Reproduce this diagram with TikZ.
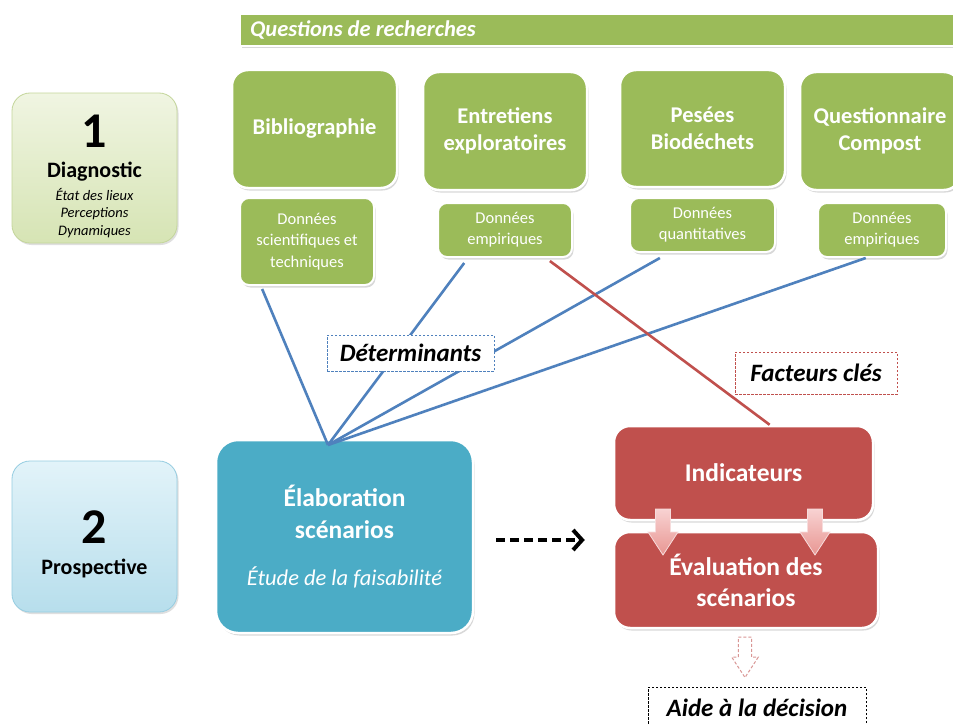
\documentclass[tikz,border=0pt]{standalone}
\usepackage{fontspec}
\setmainfont{Carlito}
\usetikzlibrary{shadows,calc,arrows.meta}
\definecolor{vgreen}{HTML}{9BBB59}
\definecolor{vblue}{HTML}{4F81BD}
\definecolor{vteal}{HTML}{4BACC6}
\definecolor{vred}{HTML}{C0504D}
\definecolor{vpink}{HTML}{D99694}
\newcommand{\fs}[1]{\fontsize{#1}{#1}\selectfont}
\tikzset{
  shad/.style={drop shadow={opacity=0.3,shadow xshift=1.5pt,shadow yshift=-2.5pt}},
  bigbox/.style={shad,rounded corners=16pt,draw=white,line width=2.5pt,text=white,
    font=\bfseries\fs{25.5},align=center,inner sep=0pt},
  greenbox/.style={bigbox,fill=vgreen,font=\bfseries\fs{22.5}},
  databox/.style={shad,rounded corners=9pt,draw=white,line width=2pt,fill=vgreen,text=white,
    font=\fs{16.5},align=center,inner sep=0pt},
  phasebox/.style={rounded corners=18pt,line width=0.8pt,inner sep=0pt,
    drop shadow={opacity=0.25,shadow xshift=1.5pt,shadow yshift=-2pt}},
  phasetext/.style={inner sep=0pt,align=center},
  bline/.style={vblue,line width=2.6pt},
  rline/.style={vred,line width=2.6pt},
  labelbox/.style={fill=white,font=\bfseries\itshape\fs{25},inner sep=0pt,line width=0.9pt,
    dash pattern=on 2.5pt off 1.5pt},
  blockfill/.style={draw={rgb,255:red,246;green,220;blue,220},line width=0.8pt,
    top color={rgb,255:red,248;green,210;blue,210},bottom color={rgb,255:red,232;green,150;blue,146}},
  blockdash/.style={draw=vpink,line width=1pt,dash pattern=on 3pt off 2pt,fill=white},
  pics/blockdown/.style={code={
    \path[#1] (-7.5,0) -- (7.5,0) -- (7.5,23) -- (15,23) -- (0,46) -- (-15,23) -- (-7.5,23) -- cycle;}},
}
\begin{document}
\begin{tikzpicture}[x=1pt,y=-1pt]
\useasboundingbox[fill=white] (0,0) rectangle (953,725);

% phase boxes
\node[phasebox,draw={rgb,255:red,196;green,214;blue,155},top color={rgb,255:red,240;green,245;blue,226},
  bottom color={rgb,255:red,214;green,228;blue,180},minimum width=165pt,minimum height=150pt] (p1) at (94.5,168) {};
\node[phasetext,font=\bfseries\fs{50}] (p1num) at (94.5,131) {1};
\node[phasetext,font=\bfseries\fs{22}] (p1title) at (94.5,172) {Diagnostic};
\node[phasetext,font=\itshape\fs{14.5},align=center] (p1sub) at (94.5,213) {État des lieux\\[3pt]Perceptions\\[3pt]Dynamiques};

\node[phasebox,draw={rgb,255:red,150;green,205;blue,225},top color={rgb,255:red,226;green,243;blue,249},
  bottom color={rgb,255:red,183;green,222;blue,236},minimum width=165pt,minimum height=151pt] (p2) at (94.5,536.5) {};
\node[phasetext,font=\bfseries\fs{50}] (p2num) at (94.5,527) {2};
\node[phasetext,font=\bfseries\fs{22}] (p2title) at (94.5,568) {Prospective};

% questions bar
\node[shad,fill=vgreen,draw=white,line width=2pt,minimum width=720pt,minimum height=32pt,inner sep=0pt] (qbar) at (600,30) {};
\node[anchor=west,text=white,font=\bfseries\itshape\fs{22.5},inner sep=0pt] (qtext) at (250,30) {Questions de recherches};

% method boxes
\node[greenbox,minimum width=165pt,minimum height=118pt] (bib) at (314.5,129) {Bibliographie};
\node[greenbox,minimum width=164pt,minimum height=118pt] (ent) at (505,131) {Entretiens\\[5pt]exploratoires};
\node[greenbox,minimum width=165pt,minimum height=117pt] (pes) at (702.5,128.5) {Pesées\\[5pt]Biodéchets};
\node[greenbox,minimum width=160pt,minimum height=118pt] (que) at (880,131) {Questionnaire\\[5pt]Compost};

% data boxes
\node[databox,minimum width=134pt,minimum height=87pt] (d1) at (307,241.5) {Données\\[5pt]scientifiques et\\[5pt]techniques};
\node[databox,minimum width=134pt,minimum height=54pt] (d2) at (505,230) {Données\\[4.5pt]empiriques};
\node[databox,minimum width=145pt,minimum height=54pt] (d3) at (702.5,225) {Données\\[4.5pt]quantitatives};
\node[databox,minimum width=128pt,minimum height=54pt] (d4) at (882,230) {Données\\[4.5pt]empiriques};

% scenario box
\node[bigbox,fill=vteal,minimum width=257pt,minimum height=193pt,rounded corners=22pt] (elab) at (344.5,536.5)
  {Élaboration\\[6.5pt]scénarios\\[22pt]{\mdseries\itshape\fs{22.5}Étude de la faisabilité}};

% red boxes
\node[bigbox,fill=vred,minimum width=259pt,minimum height=94pt] (ind) at (743.5,473) {Indicateurs};
\node[bigbox,fill=vred,minimum width=264pt,minimum height=96pt] (eval) at (746,580) {Évaluation des\\[5.5pt]scénarios};

% connectors
\coordinate (conv) at (328,445);
\draw[bline] ($(d1.south west)!0.17!(d1.south east)+(0,3)$) -- (conv);
\draw[bline] ($(d2.south west)!0.2!(d2.south east)+(0,5)$) -- (conv);
\draw[bline] ($(d3.south west)!0.21!(d3.south east)+(0,5)$) -- (conv);
\draw[bline] ($(d4.south west)!0.375!(d4.south east)+(0,0)$) -- (conv);
\draw[rline] ($(d2.south west)!0.83!(d2.south east)+(0,3)$) -- ($(ind.north west)!0.6!(ind.north east)$);

% label boxes
\node[labelbox,draw=vblue,minimum width=167pt,minimum height=36pt] (det) at (410.5,353) {Déterminants};
\node[labelbox,draw=vred,minimum width=162pt,minimum height=42pt] (fac) at (816,373) {Facteurs clés};
\node[labelbox,draw=black,minimum width=218pt,minimum height=42pt] (aide) at (757,708) {Aide à la décision};

% block arrows
\pic at (663,509) {blockdown=blockfill};
\pic at (815,509) {blockdown=blockfill};
\pic[scale=0.88] at (745,637) {blockdown=blockdash};

% dashed arrow
\draw[line width=4.5pt,dash pattern=on 9pt off 5pt,-{Straight Barb[length=9pt,width=20pt,line width=4pt]}]
  ($(elab.east)+(22,3.5)$) -- ($(elab.east -| eval.west)+(-28,3.5)$);
\end{tikzpicture}
\end{document}
